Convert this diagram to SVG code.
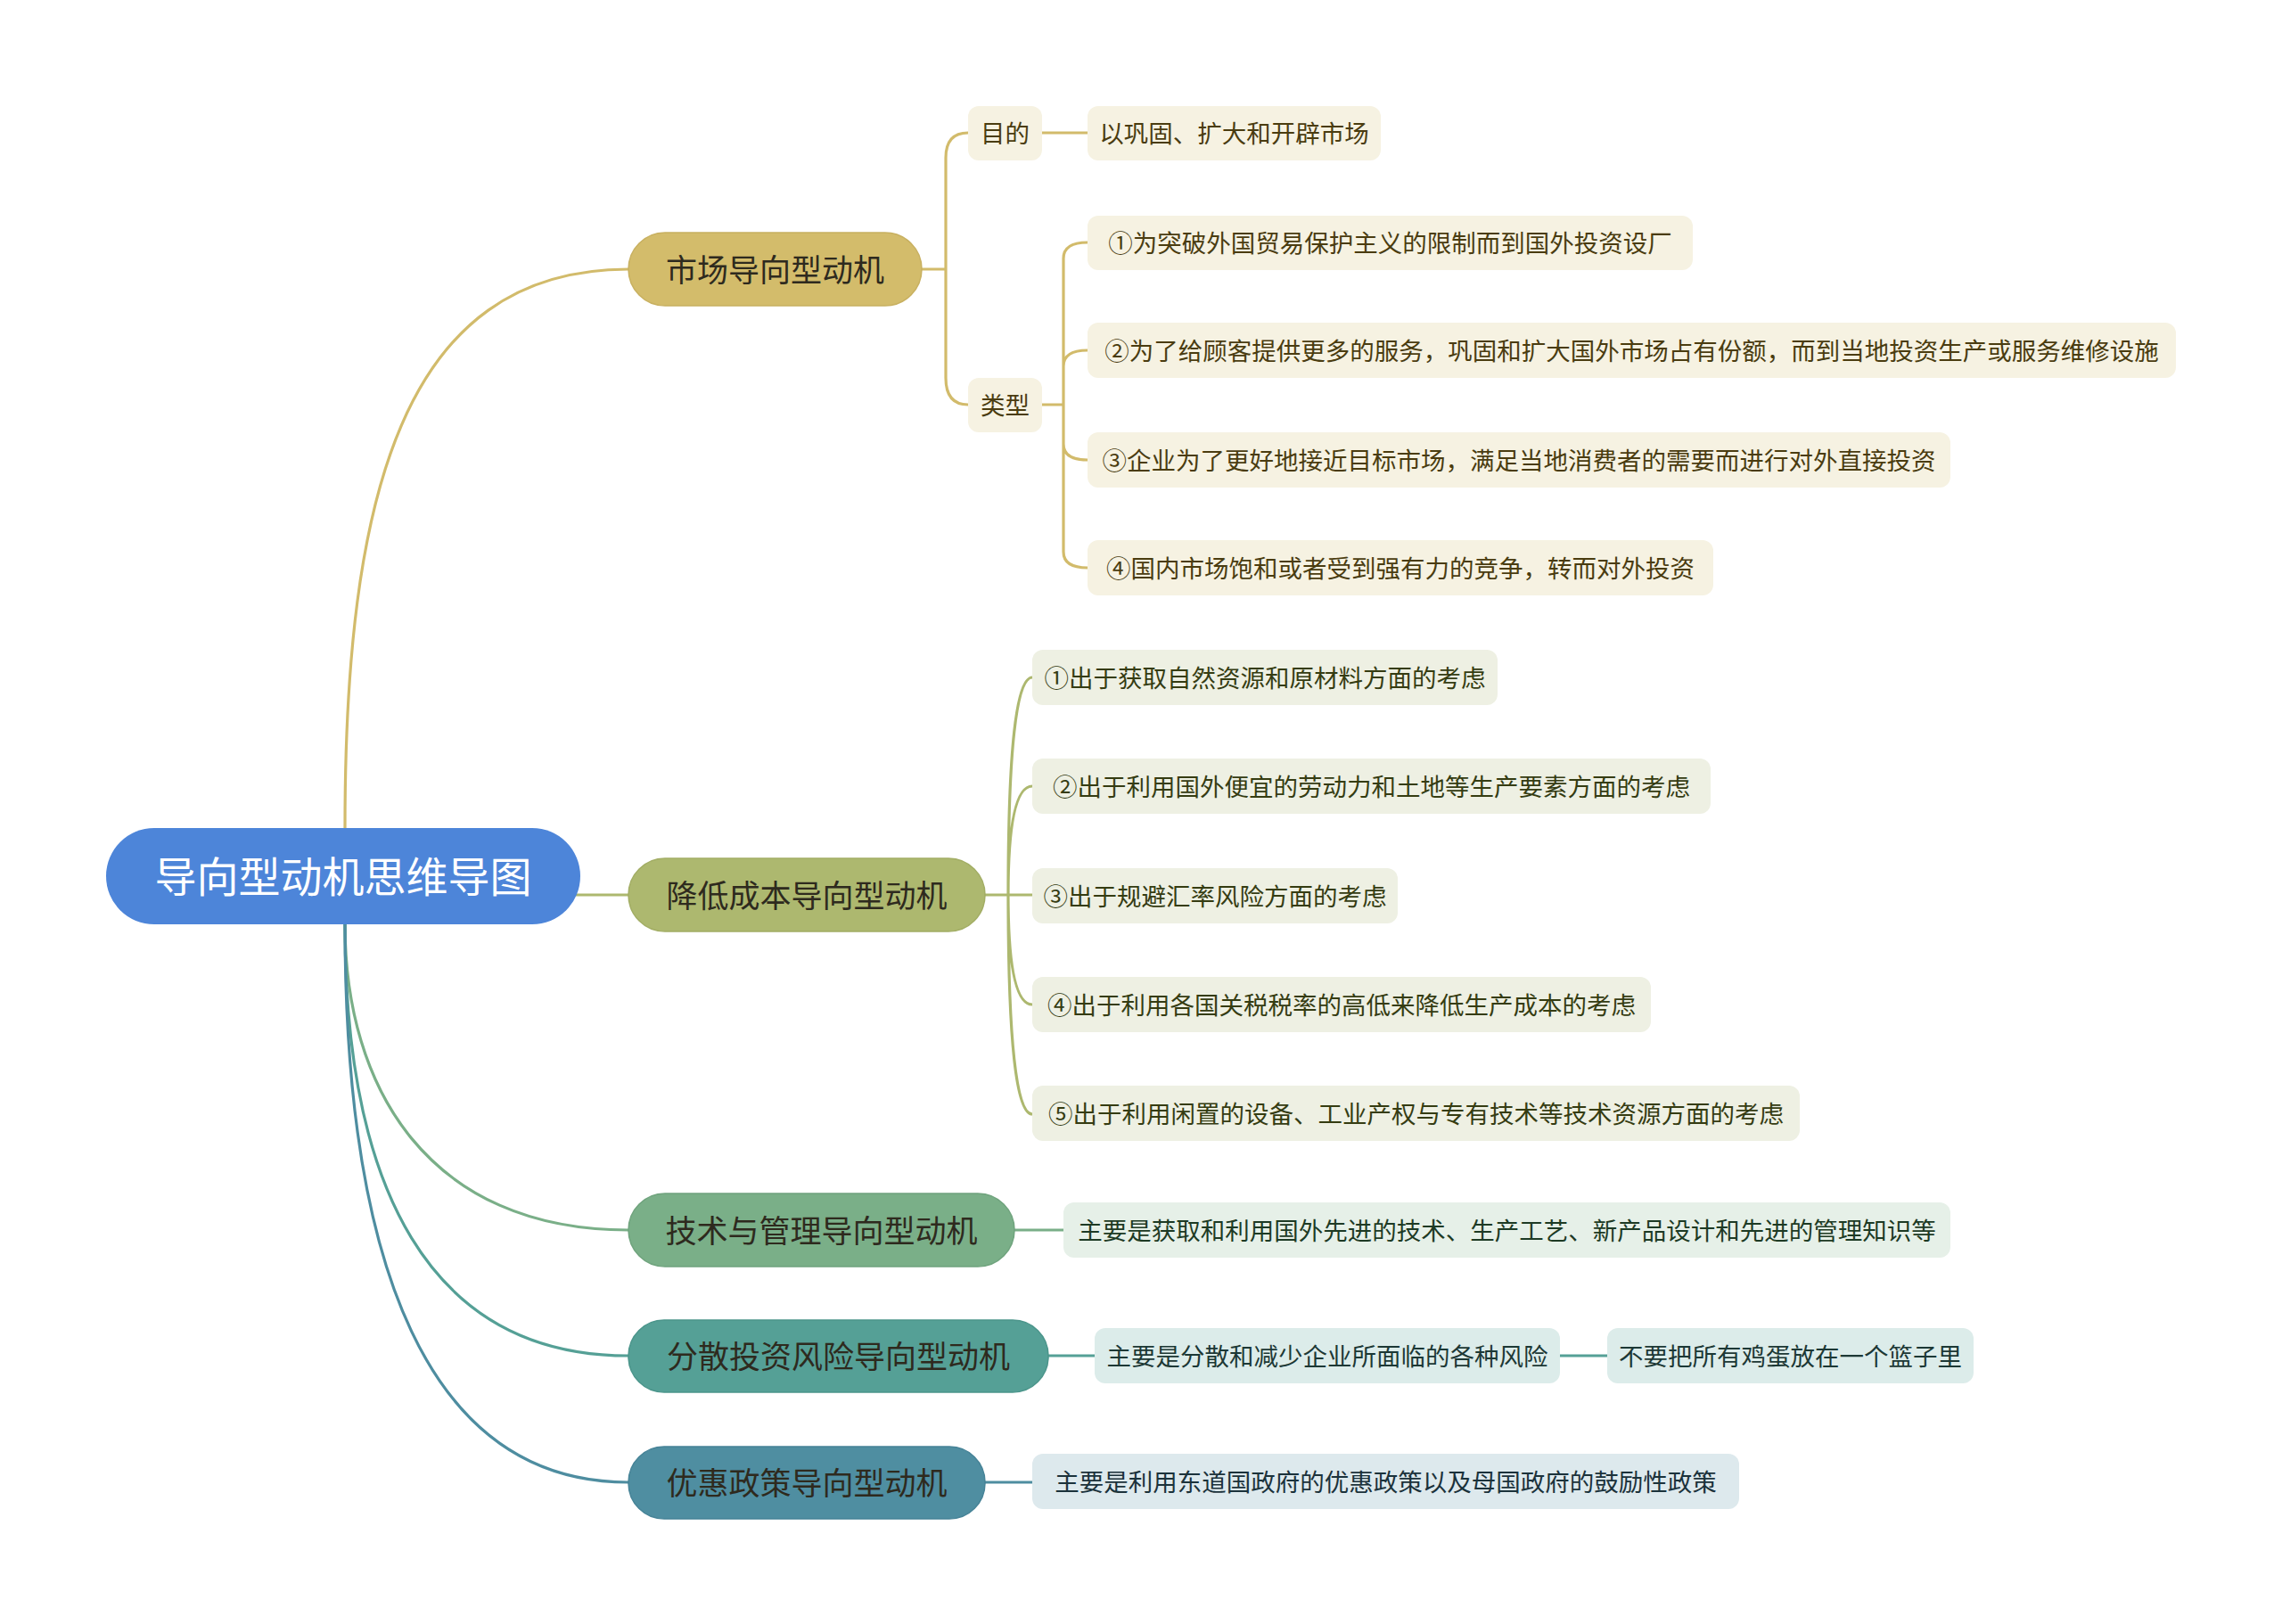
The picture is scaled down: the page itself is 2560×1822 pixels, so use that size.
<svg xmlns="http://www.w3.org/2000/svg" width="2560" height="1822" viewBox="0 0 2560 1822">
<style>
text{font-family:"Noto Sans CJK SC","Noto Sans",sans-serif;dominant-baseline:central;text-anchor:middle}
.root{font-size:47px;fill:#ffffff}
.main{font-size:35px;fill:#2e2a1e}
.leaf{font-size:27.5px}
.c{fill:none;stroke-width:3.2;stroke-linecap:round}
.gold{stroke:#d2bb6b}.olive{stroke:#adb86f}.green{stroke:#7aaf88}.teal{stroke:#55a096}.blue{stroke:#4e8da0}
</style>
<rect width="2560" height="1822" fill="#ffffff"/>
<g id="connectors">
<path class="c gold" d="M387,929 C387,560 450,302 705,302"/>
<path class="c olive" d="M640,1004 H705"/>
<path class="c green" d="M387,1037 C387,1220 480,1380 705,1380"/>
<path class="c teal" d="M387,1037 C387,1330 480,1521 705,1521"/>
<path class="c blue" d="M387,1037 C387,1420 480,1663 705,1663"/>
<path class="c gold" d="M1034,302 H1061 M1061,302 V177 Q1061,149 1086,149 M1061,302 V424 Q1061,454 1086,454"/>
<path class="c gold" d="M1169,149 H1220"/>
<path class="c gold" d="M1169,454 H1193 M1193,454 V290 Q1193,272 1220,272 M1193,454 V411 Q1193,393 1220,393 M1193,454 V498 Q1193,516 1220,516 M1193,454 V619 Q1193,637 1220,637"/>
<path class="c olive" d="M1105,1004 H1131 M1131,1004 Q1131,760 1158,760 M1131,1004 Q1131,882 1158,882 M1131,1004 H1158 M1131,1004 Q1131,1127 1158,1127 M1131,1004 Q1131,1250 1158,1250"/>
<path class="c green" d="M1138,1380 H1193"/>
<path class="c teal" d="M1176,1521 H1228 M1750,1521 H1803"/>
<path class="c blue" d="M1105,1663 H1158"/>
</g>
<g id="root"><rect x="119" y="929" width="532" height="108" rx="54" fill="#4d85d9"/><text class="root" x="385" y="980">导向型动机思维导图</text></g>
<g id="n1"><rect x="705" y="261" width="329" height="82" rx="41" fill="#d3bc6b" stroke="#c8b060" stroke-width="1.5"/><text class="main" x="869.5" y="300">市场导向型动机</text></g>
<g id="n2"><rect x="705" y="963" width="400" height="82" rx="41" fill="#adb86f" stroke="#a2ad64" stroke-width="1.5"/><text class="main" x="905" y="1002">降低成本导向型动机</text></g>
<g id="n3"><rect x="705" y="1339" width="433" height="82" rx="41" fill="#7aaf88" stroke="#6fa37d" stroke-width="1.5"/><text class="main" x="921.5" y="1378">技术与管理导向型动机</text></g>
<g id="n4"><rect x="705" y="1481" width="471" height="81" rx="40" fill="#55a096" stroke="#4b958b" stroke-width="1.5"/><text class="main" x="940.5" y="1519">分散投资风险导向型动机</text></g>
<g id="n5"><rect x="705" y="1623" width="400" height="81" rx="40" fill="#4f8ea1" stroke="#468397" stroke-width="1.5"/><text class="main" x="905" y="1661">优惠政策导向型动机</text></g>
<g id="n1a"><rect x="1086" y="119" width="83" height="61" rx="12" fill="#f6f2e2"/><text class="leaf" x="1127.5" y="148" fill="#4a3c10">目的</text></g>
<g id="n1b"><rect x="1086" y="424" width="83" height="61" rx="12" fill="#f6f2e2"/><text class="leaf" x="1127.5" y="453" fill="#4a3c10">类型</text></g>
<g id="n1a1"><rect x="1220" y="119" width="329" height="61" rx="12" fill="#f6f2e2"/><text class="leaf" x="1384.5" y="148" fill="#4a3c10">以巩固、扩大和开辟市场</text></g>
<g id="n1b1"><rect x="1220" y="242" width="679" height="61" rx="12" fill="#f6f2e2"/><text class="leaf" x="1559.5" y="271" fill="#4a3c10">①为突破外国贸易保护主义的限制而到国外投资设厂</text></g>
<g id="n1b2"><rect x="1220" y="362" width="1221" height="62" rx="12" fill="#f6f2e2"/><text class="leaf" x="1830.5" y="392" fill="#4a3c10">②为了给顾客提供更多的服务，巩固和扩大国外市场占有份额，而到当地投资生产或服务维修设施</text></g>
<g id="n1b3"><rect x="1220" y="485" width="968" height="62" rx="12" fill="#f6f2e2"/><text class="leaf" x="1704" y="515" fill="#4a3c10">③企业为了更好地接近目标市场，满足当地消费者的需要而进行对外直接投资</text></g>
<g id="n1b4"><rect x="1220" y="606" width="702" height="62" rx="12" fill="#f6f2e2"/><text class="leaf" x="1571" y="636" fill="#4a3c10">④国内市场饱和或者受到强有力的竞争，转而对外投资</text></g>
<g id="n2a"><rect x="1158" y="729" width="522" height="62" rx="12" fill="#eef0e3"/><text class="leaf" x="1419" y="759" fill="#353c12">①出于获取自然资源和原材料方面的考虑</text></g>
<g id="n2b"><rect x="1158" y="851" width="761" height="62" rx="12" fill="#eef0e3"/><text class="leaf" x="1538.5" y="881" fill="#353c12">②出于利用国外便宜的劳动力和土地等生产要素方面的考虑</text></g>
<g id="n2c"><rect x="1158" y="974" width="410" height="62" rx="12" fill="#eef0e3"/><text class="leaf" x="1363" y="1004" fill="#353c12">③出于规避汇率风险方面的考虑</text></g>
<g id="n2d"><rect x="1158" y="1096" width="694" height="62" rx="12" fill="#eef0e3"/><text class="leaf" x="1505" y="1126" fill="#353c12">④出于利用各国关税税率的高低来降低生产成本的考虑</text></g>
<g id="n2e"><rect x="1158" y="1218" width="861" height="62" rx="12" fill="#eef0e3"/><text class="leaf" x="1588.5" y="1248" fill="#353c12">⑤出于利用闲置的设备、工业产权与专有技术等技术资源方面的考虑</text></g>
<g id="n3a"><rect x="1193" y="1349" width="995" height="62" rx="12" fill="#e6f0e8"/><text class="leaf" x="1690.5" y="1379" fill="#1d3a24">主要是获取和利用国外先进的技术、生产工艺、新产品设计和先进的管理知识等</text></g>
<g id="n4a"><rect x="1228" y="1490" width="522" height="62" rx="12" fill="#dcecea"/><text class="leaf" x="1489" y="1520" fill="#1c3835">主要是分散和减少企业所面临的各种风险</text></g>
<g id="n4b"><rect x="1803" y="1490" width="411" height="62" rx="12" fill="#dcecea"/><text class="leaf" x="2008.5" y="1520" fill="#1c3835">不要把所有鸡蛋放在一个篮子里</text></g>
<g id="n5a"><rect x="1158" y="1631" width="793" height="62" rx="12" fill="#dde9ed"/><text class="leaf" x="1554.5" y="1661" fill="#1b323b">主要是利用东道国政府的优惠政策以及母国政府的鼓励性政策</text></g>
</svg>
